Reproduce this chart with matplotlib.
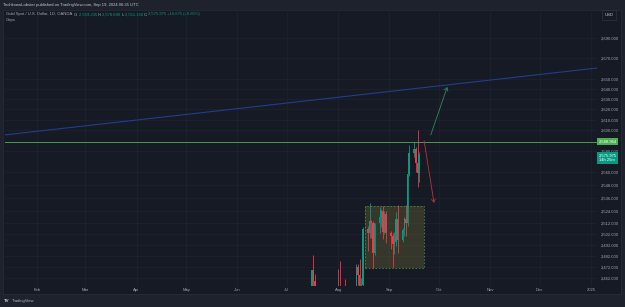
import matplotlib
matplotlib.use("Agg")
import matplotlib.pyplot as plt
import matplotlib.dates as mdates
from matplotlib.patches import Rectangle, FancyArrowPatch
from matplotlib.ticker import FixedLocator, NullLocator, FixedFormatter
from matplotlib.transforms import blended_transform_factory
import datetime as dt
import numpy as np

plt.rcParams['font.family'] = ['Liberation Sans', 'DejaVu Sans']

# ---- data ----
dates = ["2024-07-08", "2024-07-09", "2024-07-10", "2024-07-11", "2024-07-12",
         "2024-07-15", "2024-07-16", "2024-07-17", "2024-07-18", "2024-07-19",
         "2024-07-22", "2024-07-23", "2024-07-24", "2024-07-25", "2024-07-26",
         "2024-07-29", "2024-07-30", "2024-07-31", "2024-08-01", "2024-08-02",
         "2024-08-05", "2024-08-06", "2024-08-07", "2024-08-08", "2024-08-09",
         "2024-08-12", "2024-08-13", "2024-08-14", "2024-08-15", "2024-08-16",
         "2024-08-19", "2024-08-20", "2024-08-21", "2024-08-22", "2024-08-23",
         "2024-08-26", "2024-08-27", "2024-08-28", "2024-08-29", "2024-08-30",
         "2024-09-02", "2024-09-03", "2024-09-04", "2024-09-05", "2024-09-06",
         "2024-09-09", "2024-09-10", "2024-09-11", "2024-09-12", "2024-09-13",
         "2024-09-16", "2024-09-17", "2024-09-18", "2024-09-19"]
opens  = [2391, 2359, 2364, 2371, 2415, 2411, 2422, 2469, 2459, 2445,
          2400, 2396, 2409, 2397, 2365, 2387, 2384, 2410, 2447, 2446,
          2443, 2409, 2390, 2383, 2427, 2431, 2472, 2465, 2447, 2456,
          2507, 2503, 2514, 2512, 2485, 2512, 2518, 2524, 2504, 2521,
          2503, 2500, 2493, 2495, 2516, 2497, 2506, 2516, 2512, 2558,
          2578, 2582, 2569, 2559.235]
highs  = [2392, 2372, 2385, 2424, 2418, 2440, 2469, 2483, 2466, 2446,
          2404, 2412, 2431, 2399, 2389, 2393, 2413, 2451, 2470, 2477,
          2461, 2420, 2404, 2432, 2436, 2475, 2475, 2479, 2462, 2509,
          2510, 2531, 2515, 2514, 2512, 2527, 2525, 2528, 2524, 2524,
          2505, 2503, 2504, 2523, 2529, 2508, 2518, 2529, 2560, 2586,
          2589, 2584, 2600, 2578.89]
lows   = [2353, 2352, 2358, 2367, 2392, 2409, 2418, 2453, 2433, 2392,
          2384, 2385, 2401, 2353, 2364, 2376, 2380, 2405, 2431, 2410,
          2364, 2385, 2380, 2382, 2419, 2428, 2456, 2438, 2432, 2454,
          2487, 2499, 2499, 2471, 2483, 2503, 2509, 2498, 2502, 2494,
          2488, 2472, 2484, 2491, 2485, 2495, 2500, 2500, 2510, 2556,
          2574, 2560, 2546, 2551.16]
closes = [2359, 2364, 2371, 2415, 2411, 2422, 2469, 2459, 2445, 2400,
          2396, 2409, 2397, 2365, 2387, 2384, 2410, 2447, 2446, 2443,
          2409, 2390, 2383, 2427, 2431, 2472, 2465, 2447, 2456, 2507,
          2503, 2514, 2512, 2485, 2512, 2518, 2524, 2504, 2521, 2503,
          2500, 2493, 2495, 2516, 2497, 2506, 2516, 2512, 2558, 2578,
          2582, 2569, 2559, 2575.975]

hline_price = 2588.964
last_price = 2575.975

trend_dates = ["2024-01-12", "2025-01-05"]
trend_prices = [2595.4, 2660.4]

up_arrow_dates = ["2024-09-26", "2024-10-06"]
up_arrow_prices = [2595.4, 2641.8]
down_arrow_dates = ["2024-09-22", "2024-09-28"]
down_arrow_prices = [2589.7, 2531.1]

box_dates = ["2024-08-17", "2024-09-22"]
box_prices = [2471.1, 2528.3]

price_ticks = [2690, 2670, 2650, 2640, 2630, 2620, 2610, 2600, 2580, 2560,
               2548, 2536, 2524, 2512, 2502, 2492, 2482, 2472, 2462]
month_ticks = ["2024-02-01", "2024-03-01", "2024-04-01", "2024-05-01", "2024-06-01",
               "2024-07-01", "2024-08-01", "2024-09-01", "2024-10-01", "2024-11-01",
               "2024-12-01", "2025-01-01"]
month_labels = ["Feb", "Mar", "Apr", "May", "Jun", "Jul", "Aug", "Sep", "Oct",
                "Nov", "Dec", "2025"]

header = "TechknowLobster published on TradingView.com, Sep 19, 2024 06:35 UTC"
symbol = "Gold Spot / U.S. Dollar, 1D, OANDA"
ohlc_labels = ["O:", "H:", "L:", "C:"]
ohlc_values = ["2,559.235", "2,578.890", "2,551.160", "2,575.975 +16.675 (+0.65%)"]

# ---- style ----
BG = '#161a25'
OUTER = '#1e222d'
GRID = '#1f2330'
TXT = '#a3a6af'
UP = '#089981'
DN = '#f23645'
FS = 3.0

W, H = 625, 307
fig = plt.figure(figsize=(W / 100, H / 100), dpi=100, facecolor=OUTER)

def px(x, y, w, h):
    return [x / W, 1 - (y + h) / H, w / W, h / H]

pane = fig.add_axes(px(3, 10, 618, 284))
pane.set_facecolor(BG)
pane.set_xticks([]); pane.set_yticks([])
for s in pane.spines.values():
    s.set_color('#2a2e39'); s.set_linewidth(0.5)

ax = fig.add_axes(px(5, 10, 592, 276))
ax.set_facecolor('none')
for s in ax.spines.values():
    s.set_visible(False)

d2n = lambda lst: mdates.date2num([dt.datetime.fromisoformat(d) for d in lst])

x0 = mdates.date2num(dt.datetime(2024, 1, 12, 8))
x1 = mdates.date2num(dt.datetime(2025, 1, 4, 15))
ax.set_xlim(x0, x1)
ax.set_yscale('log')
ax.set_ylim(2454.7, 2717.9)

ax.yaxis.set_major_locator(FixedLocator(price_ticks))
ax.yaxis.set_major_formatter(FixedFormatter([f"{v:,.3f}" for v in price_ticks]))
ax.yaxis.set_minor_locator(NullLocator())
ax.set_xticks(d2n(month_ticks))
ax.set_xticklabels(month_labels)
ax.grid(True, which='major', color=GRID, linewidth=0.5)
ax.set_axisbelow(True)
ax.yaxis.tick_right()
ax.tick_params(axis='y', which='both', length=0, pad=2.5, labelsize=FS, labelcolor=TXT)
ax.tick_params(axis='x', length=0, pad=1.4, labelsize=FS, labelcolor=TXT)

# candles
xd = d2n(dates)
o = np.array(opens); h = np.array(highs); l = np.array(lows); c = np.array(closes)
cols = [UP if cc >= oo else DN for oo, cc in zip(o, c)]
ax.vlines(xd, l, h, colors=cols, linewidth=0.6, zorder=3)
ax.bar(xd, np.maximum(np.abs(c - o), 0.6), bottom=np.minimum(o, c), width=0.95,
       color=cols, edgecolor='none', zorder=4)

# box
bx = d2n(box_dates)
ax.add_patch(Rectangle((bx[0], box_prices[0]), bx[1] - bx[0], box_prices[1] - box_prices[0],
                       facecolor='#6f7035', alpha=0.35, edgecolor='none', zorder=2))
ax.add_patch(Rectangle((bx[0], box_prices[0]), bx[1] - bx[0], box_prices[1] - box_prices[0],
                       facecolor='none', edgecolor='#4c8a3c', linestyle=(0, (2, 2)),
                       linewidth=0.6, zorder=5))

# trend line
ax.plot(d2n(trend_dates), trend_prices, color='#223d8a', linewidth=0.8, zorder=5)
# horizontal line
ax.axhline(hline_price, color='#43a047', linewidth=0.7, zorder=5)

# arrows
ua = d2n(up_arrow_dates)
ax.add_patch(FancyArrowPatch((ua[0], up_arrow_prices[0]), (ua[1], up_arrow_prices[1]),
                             arrowstyle='->,head_length=2.2,head_width=1.4', color='#2e8b57',
                             linewidth=0.6, zorder=6, shrinkA=0, shrinkB=0))
da = d2n(down_arrow_dates)
ax.add_patch(FancyArrowPatch((da[0], down_arrow_prices[0]), (da[1], down_arrow_prices[1]),
                             arrowstyle='->,head_length=2.2,head_width=1.4', color='#b8323e',
                             linewidth=0.6, zorder=6, shrinkA=0, shrinkB=0))

# price labels on scale
tr = blended_transform_factory(ax.transAxes, ax.transData)
ax.text(1.003, hline_price, f"{hline_price:,.3f}", transform=tr, fontsize=FS, color='white',
        va='center', ha='left', zorder=10, clip_on=False,
        bbox=dict(boxstyle='square,pad=0.35', facecolor='#4caf50', edgecolor='none'))
ax.text(1.003, last_price - 2.5, f"{last_price:,.3f}\n14h 25m", transform=tr, fontsize=FS,
        color='white', va='center', ha='left', zorder=10, clip_on=False, linespacing=1.1,
        bbox=dict(boxstyle='square,pad=0.35', facecolor=UP, edgecolor='none'))

# texts
fig.text(3 / W, 1 - 5 / H, header, fontsize=FS, color='#c8cad0', va='center', ha='left')
prev = fig.text(6 / W, 1 - 14.5 / H, symbol + "  ", fontsize=FS, color=TXT,
                va='center', ha='left')
for lab, val in zip(ohlc_labels, ohlc_values):
    t_lab = ax.annotate(lab, xy=(1, 0.5), xycoords=prev, fontsize=FS, color=TXT,
                        va='center', ha='left', annotation_clip=False)
    prev = ax.annotate(val + " ", xy=(1, 0.5), xycoords=t_lab, fontsize=FS, color=UP,
                       va='center', ha='left', annotation_clip=False)
fig.text(6 / W, 1 - 19.5 / H, "Gaps", fontsize=FS, color=TXT, va='center', ha='left')

fig.text(609 / W, 1 - 15 / H, "USD", fontsize=FS, color='#c8cad0', va='center', ha='center',
         bbox=dict(boxstyle='square,pad=0.7', facecolor=BG, edgecolor='#363a45', linewidth=0.4))

fig.text(4 / W, 1 - 301 / H, "TV", fontsize=3.2, color='#d1d4dc', weight='bold',
         va='center', ha='left')
fig.text(11.5 / W, 1 - 301 / H, "TradingView", fontsize=FS, color='#b2b5be', va='center', ha='left')

fig.savefig("out.png", dpi=100, facecolor=OUTER)
